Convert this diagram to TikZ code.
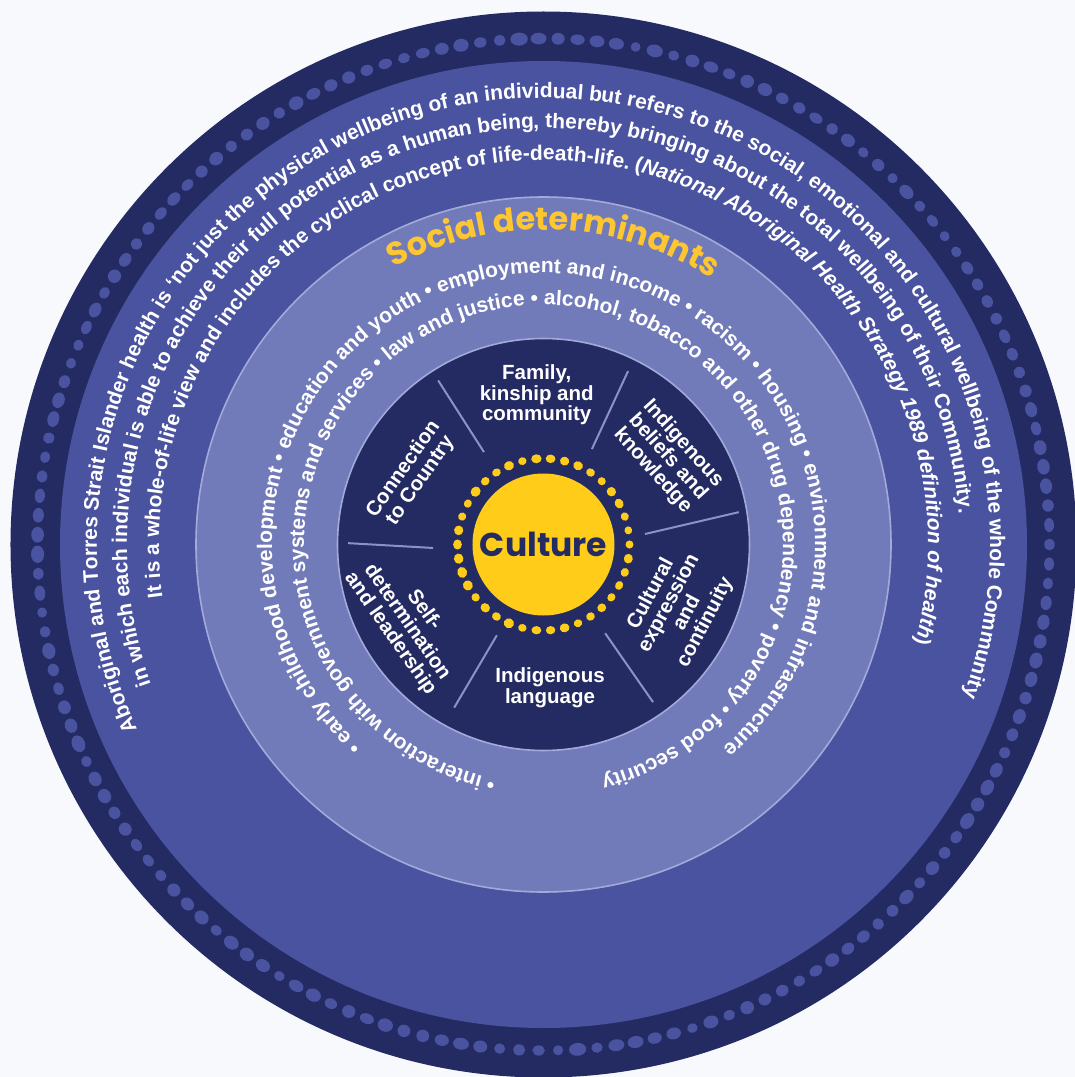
\documentclass[tikz,border=0pt]{standalone}
\usepackage{xcolor}
\usepackage{fontspec}
\setmainfont{Liberation Sans}
\newfontfamily\geofont{Poppins}
\usepackage{tikz}
\usetikzlibrary{decorations.text}
\definecolor{pagebg}{HTML}{F7F9FD}
\definecolor{navy}{HTML}{242A62}
\definecolor{bandblue}{HTML}{4A53A0}
\definecolor{ringblue}{HTML}{727BB9}
\definecolor{rimline}{HTML}{A3A9D8}
\definecolor{sepline}{HTML}{8B92CB}
\definecolor{sunyellow}{HTML}{FFCC1A}
\definecolor{sdyellow}{HTML}{FEC631}
\newcommand{\bandfont}{\fontsize{21}{24}\selectfont\bfseries\color{white}}
\newcommand{\titlefont}{\geofont\fontsize{32}{36}\selectfont\bfseries\color{sdyellow}}
\tikzstyle{ringtext} = [decorate, decoration={text along path, text align=center}]
\tikzstyle{sector} = [text=white, font=\bfseries\fontsize{20.5}{20.5}\selectfont,
    align=center, inner sep=0pt]
\tikzstyle{divider} = [draw=sepline, line width=2pt]
\tikzstyle{rim} = [draw=rimline, line width=1.6pt]

\begin{document}
\begin{tikzpicture}
    % Page
    \useasboundingbox[fill=pagebg] (-543.5pt,-532.5pt) rectangle (531.5pt,544.5pt);
    % Rings
    \fill[navy] (0,0) circle[radius=533pt];
    \fill[bandblue] (0,0) circle[radius=483.5pt];
    \fill[ringblue] (0,0) circle[radius=348pt];
    \draw[rim] (0,0) circle[radius=347.5pt];
    \fill[navy] (0,0) circle[radius=206pt];
    \draw[rim] (0,0) circle[radius=206pt];
    % Dots round the rim
    \pgfmathsetseed{42}
    \foreach \i in {0,...,162}{
        \pgfmathsetmacro\ang{360/163*\i}
        \pgfmathsetmacro\rr{4.8+1.8*rnd}
        \pgfmathsetmacro\rt{\rr+2.2*rnd}
        \fill[bandblue, shift={(\ang:506pt)}, rotate=\ang] (0,0) ellipse[x radius=\rr pt, y radius=\rt pt];
    }
    % Sun
    \fill[sunyellow] (0,0) circle[radius=71pt];
    \foreach \i in {0,...,37}{
        \pgfmathsetmacro\ang{360/38*\i}
        \pgfmathsetmacro\rr{3.8+1.2*rnd}
        \pgfmathsetmacro\rt{\rr+0.8*rnd}
        \fill[sunyellow, shift={(\ang:86pt)}, rotate=\ang] (0,0) ellipse[x radius=\rr pt, y radius=\rt pt];
    }
    % Dividers
    \foreach \ai/\ri/\ao/\ro in {122.8/110/122.7/195, 63.1/107/64/193, 5.9/102/9.4/198,
        -55.2/108/-55.2/192, -117.2/102/-118.7/186, 181.8/110.5/179.6/195.5}
        \draw[divider] (\ai:\ri pt) -- (\ao:\ro pt);
    % Definition of health
    \path[ringtext, decoration={text={|\bandfont|Aboriginal and Torres Strait Islander health is ‘not just the physical wellbeing of an individual but refers to the social, emotional and cultural wellbeing of the whole Community}}]
        (262.3:446.5pt) arc[start angle=262.3, end angle=-77.7, radius=446.5pt];
    \path[ringtext, decoration={text={|\bandfont|in which each individual is able to achieve their full potential as a human being, thereby bringing about the total wellbeing of their Community.}}]
        (271.9:416.5pt) arc[start angle=271.9, end angle=-68.1, radius=416.5pt];
    \path[ringtext, decoration={text={|\bandfont|It is a whole-of-life view and includes the cyclical concept of  life-death-life. (|\bandfont\itshape|National Aboriginal Health Strategy 1989 definition of health|\bandfont|)}}]
        (256.5:384.5pt) arc[start angle=256.5, end angle=-83.5, radius=384.5pt];
    % Social determinants
    \path[ringtext, decoration={text={|\titlefont|Social determinants}}]
        (178:314.5pt) arc[start angle=178, end angle=-2, radius=314.5pt];
    \path[ringtext, decoration={text={|\bandfont|• early childhood development • education and youth • employment and income • racism • housing • environment and infrastructure}}]
        (264.6:271.5pt) arc[start angle=264.6, end angle=-85.4, radius=271.5pt];
    \path[ringtext, decoration={text={|\bandfont|• interaction with government systems and services • law and justice • alcohol, tobacco and other drug dependency • poverty • food security}}]
        (269.2:239.5pt) arc[start angle=269.2, end angle=-86.8, radius=239.5pt];
    % Place nodes
    \node[font=\geofont\bfseries\fontsize{33}{36}\selectfont, text=navy] (culture) at (0,0) {Culture};
    \node[sector] (family) at (92.6:149.7pt) {Family,\\kinship and\\community};
    \node[sector, rotate=-48] (beliefs) at (35.1:152pt) {Indigenous\\beliefs and\\knowledge};
    \node[sector, rotate=62] (expression) at (-25.3:149pt) {Cultural\\expression\\and\\continuity};
    \node[sector] (language) at (-87.4:143.6pt) {Indigenous\\language};
    \node[sector, rotate=-55] (selfdet) at (209.6:157pt) {Self-\\determination\\and leadership};
    \node[sector, rotate=55] (country) at (152.1:148.7pt) {Connection\\to Country};
\end{tikzpicture}
\end{document}
